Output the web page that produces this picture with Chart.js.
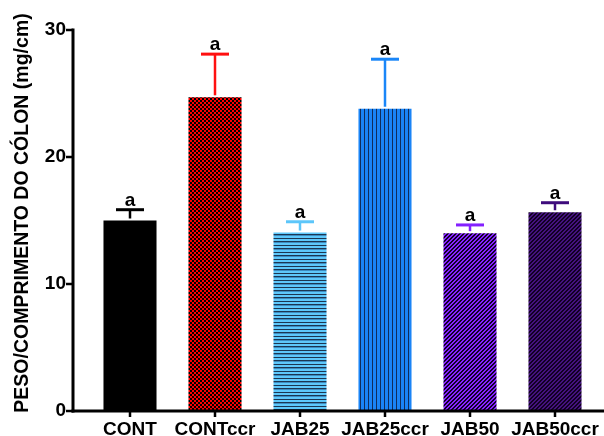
<!DOCTYPE html>
<html>
<head>
<meta charset="utf-8">
<script src="https://cdn.jsdelivr.net/npm/chart.js@4"></script>
<style>
  html, body { margin: 0; padding: 0; background: #fff; }
  #wrap { width: 604px; height: 436px; position: relative; }
</style>
</head>
<body>
<div id="wrap"><canvas id="c" width="604" height="436"></canvas></div>
<script>
// Colon weight per length, mean and upper error (SEM) per group
const categories = ['CONT', 'CONTccr', 'JAB25', 'JAB25ccr', 'JAB50', 'JAB50ccr'];
const means = [15.0, 24.7, 14.05, 23.8, 14.0, 15.65];
const errors = [0.85, 3.4, 0.85, 3.9, 0.65, 0.75];
const letters = ['a', 'a', 'a', 'a', 'a', 'a'];
const yTicks = [0, 10, 20, 30];

const FONT = '"Liberation Sans", Arial, Helvetica, sans-serif';
const errColors = ['#000000', '#ff1010', '#5cc6fa', '#1a86f8', '#8420ff', '#3e0c7c'];

// Small tiles used as bar fills
function tile(w, h, paint) {
  const cv = document.createElement('canvas');
  cv.width = w; cv.height = h;
  const g = cv.getContext('2d');
  paint(g);
  return g.createPattern(cv, 'repeat');
}
const ctx = document.getElementById('c').getContext('2d');

function diagonal(bg, fg) {
  return tile(4, 4, g => {
    g.fillStyle = bg; g.fillRect(0, 0, 4, 4);
    g.fillStyle = fg;
    for (let x = 0; x < 4; x++) for (let y = 0; y < 4; y++) {
      const k = (x + y) % 4;
      if (k === 0 || k === 1) g.fillRect(x, y, 1, 1);
    }
  });
}

const fills = [
  '#000000',
  tile(4, 4, g => {            // red/black checkerboard
    g.fillStyle = '#ff0000'; g.fillRect(0, 0, 4, 4);
    g.fillStyle = '#000000'; g.fillRect(0, 0, 2, 2); g.fillRect(2, 2, 2, 2);
  }),
  tile(4, 7, g => {            // light blue with horizontal lines
    g.fillStyle = '#5ec8fb'; g.fillRect(0, 0, 4, 7);
    g.fillStyle = '#1c3652'; g.fillRect(0, 0, 4, 1); g.fillRect(0, 3, 4, 1);
    g.fillStyle = '#3d8cc0'; g.fillRect(0, 4, 4, 1);
  }),
  tile(4, 4, g => {            // blue with vertical lines
    g.fillStyle = '#1a84f6'; g.fillRect(0, 0, 4, 4);
    g.fillStyle = '#0f2d5c'; g.fillRect(0, 0, 1, 4);
  }),
  diagonal('#8624ff', '#12002a'),
  diagonal('#44127e', '#120024')
];

// Axes, category labels, error bars, group letters and the y title
const decor = {
  id: 'decor',
  afterDatasetsDraw(chart) {
    const c = chart.ctx;
    const x = chart.scales.x, y = chart.scales.y;
    const meta = chart.getDatasetMeta(0);
    c.save();
    // error bars
    meta.data.forEach((bar, i) => {
      const top = y.getPixelForValue(means[i] + errors[i]);
      const base = y.getPixelForValue(means[i]) - 2;
      c.strokeStyle = errColors[i];
      c.lineWidth = 2.5;
      c.beginPath(); c.moveTo(bar.x, base); c.lineTo(bar.x, top); c.stroke();
      c.lineWidth = 3;
      c.beginPath(); c.moveTo(bar.x - 14, top); c.lineTo(bar.x + 14, top); c.stroke();
      c.fillStyle = '#000';
      c.font = 'bold 19px ' + FONT;
      c.textAlign = 'center';
      c.textBaseline = 'alphabetic';
      c.fillText(letters[i], bar.x, top - 4);
    });
    // axis lines
    const ax = 73;
    const y0 = y.getPixelForValue(0);
    const yTop = y.getPixelForValue(30);
    c.strokeStyle = '#000';
    c.lineWidth = 3;
    c.beginPath(); c.moveTo(ax, yTop - 1.5); c.lineTo(ax, y0 + 1.5); c.stroke();
    c.beginPath(); c.moveTo(ax - 1.5, y0); c.lineTo(chart.width, y0); c.stroke();
    c.lineWidth = 2.5;
    yTicks.forEach(v => {
      const py = y.getPixelForValue(v);
      c.beginPath(); c.moveTo(ax - 7, py); c.lineTo(ax, py); c.stroke();
    });
    // category ticks and labels
    c.fillStyle = '#000';
    c.font = 'bold 19px ' + FONT;
    c.textAlign = 'center';
    c.textBaseline = 'middle';
    categories.forEach((lab, i) => {
      const px = x.getPixelForValue(i);
      c.beginPath(); c.moveTo(px, y0); c.lineTo(px, y0 + 6); c.stroke();
      c.fillText(lab, px, y0 + 18.5);
    });
    // y title
    c.translate(23, 213);
    c.rotate(-Math.PI / 2);
    c.font = 'bold 19.5px ' + FONT;
    c.textAlign = 'center';
    c.textBaseline = 'middle';
    c.fillText('PESO/COMPRIMENTO DO CÓLON (mg/cm)', 0, 0);
    c.restore();
  }
};

new Chart(ctx, {
  type: 'bar',
  data: {
    labels: categories,
    datasets: [{
      data: means,
      backgroundColor: fills,
      borderWidth: 0,
      categoryPercentage: 1,
      barPercentage: 0.624
    }]
  },
  options: {
    responsive: false,
    animation: false,
    layout: { padding: { top: 30, right: 6.5, bottom: 25, left: 0 } },
    plugins: { legend: { display: false }, tooltip: { enabled: false } },
    scales: {
      x: {
        display: false
      },
      y: {
        min: 0, max: 30,
        // tick marks are drawn by the plugin; tickLength only spaces the labels
        grid: { display: false, drawTicks: true, tickLength: 21.5 },
        border: { display: false },
        afterBuildTicks: s => { s.ticks = yTicks.map(v => ({ value: v })); },
        ticks: {
          color: '#000',
          font: { family: FONT, size: 19, weight: 'bold' },
          padding: 0
        },
        afterFit: s => { s.width = 87.5; }
      }
    }
  },
  plugins: [decor]
});
</script>
</body>
</html>
